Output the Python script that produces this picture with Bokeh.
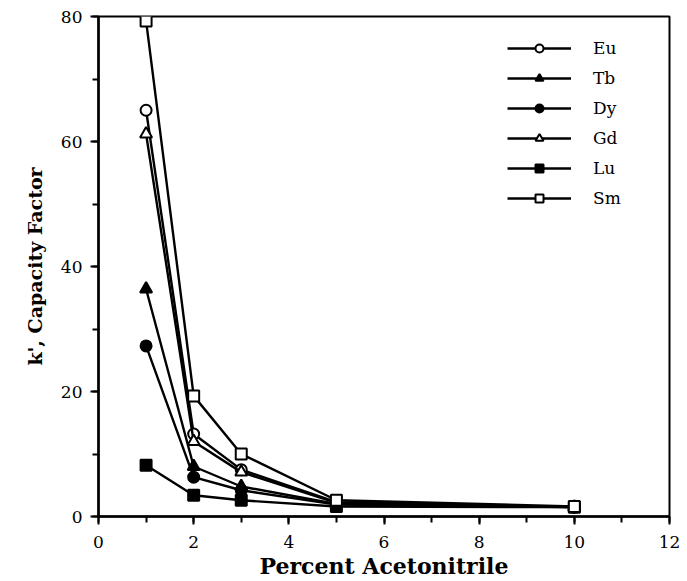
from bokeh.plotting import figure
from bokeh.models import Range1d, Legend, LegendItem, SingleIntervalTicker
from bokeh.embed import file_html
from bokeh.resources import INLINE

x_vals = [1, 2, 3, 5, 10]
eu = [65.0, 13.2, 7.5, 2.3, 1.5]
tb = [36.4, 8.0, 4.8, 2.0, 1.5]
dy = [27.3, 6.3, 4.2, 1.9, 1.5]
gd = [61.2, 12.0, 7.1, 2.2, 1.5]
lu = [8.2, 3.4, 2.6, 1.6, 1.5]
sm = [79.3, 19.3, 10.0, 2.6, 1.6]

series = [
    ("Eu", eu, "circle", "white"),
    ("Tb", tb, "triangle", "black"),
    ("Dy", dy, "circle", "black"),
    ("Gd", gd, "triangle", "white"),
    ("Lu", lu, "square", "black"),
    ("Sm", sm, "square", "white"),
]

SERIF = "DejaVu Serif"

p = figure(width=687, height=581, output_backend="svg", toolbar_location=None,
           x_range=Range1d(0, 12), y_range=Range1d(0, 80),
           min_border_left=98, min_border_right=18, min_border_top=16, min_border_bottom=65)
p.grid.visible = False
p.outline_line_color = "black"
p.outline_line_width = 2
p.background_fill_color = "white"
p.border_fill_color = "white"

p.xaxis.ticker = SingleIntervalTicker(interval=2, num_minor_ticks=2)
p.yaxis.ticker = SingleIntervalTicker(interval=20, num_minor_ticks=2)
for ax in (p.xaxis, p.yaxis):
    ax.axis_line_width = 2.5
    ax.axis_line_color = "black"
    ax.major_tick_line_width = 2
    ax.minor_tick_line_width = 2
    ax.major_tick_line_color = "black"
    ax.minor_tick_line_color = "black"
    ax.major_tick_out = 8
    ax.major_tick_in = 0
    ax.minor_tick_out = 6
    ax.minor_tick_in = 0
    ax.major_label_text_font = SERIF
    ax.major_label_text_font_size = "17px"
    ax.major_label_text_color = "black"
    ax.axis_label_text_font = SERIF
    ax.axis_label_text_font_style = "bold"
    ax.axis_label_text_color = "black"
p.xaxis.axis_label_text_font_size = "22px"
p.yaxis.axis_label_text_font_size = "19px"
p.xaxis.axis_label = "Percent Acetonitrile"
p.yaxis.axis_label = "k', Capacity Factor"
p.xaxis.major_label_standoff = 11
p.yaxis.major_label_standoff = 8
p.xaxis.axis_label_standoff = 2
p.yaxis.axis_label_standoff = 12

items = []
for name, vals, marker, fill in series:
    ln = p.line(x_vals, vals, line_color="black", line_width=2.4)
    sc = p.scatter(x_vals, vals, marker=marker, size=11 if marker != "triangle" else 12,
                   line_color="black", line_width=2, fill_color=fill)
    items.append(LegendItem(label=name, renderers=[ln, sc]))

legend = Legend(items=items, location=(409, 308), border_line_color=None,
                background_fill_alpha=0, padding=0, margin=0, spacing=10,
                glyph_width=64, glyph_height=20, label_height=20,
                label_standoff=22, label_text_font=SERIF, label_text_font_size="17px",
                label_text_color="black")
p.add_layout(legend)

open("out.html", "w").write(file_html(p, INLINE))
